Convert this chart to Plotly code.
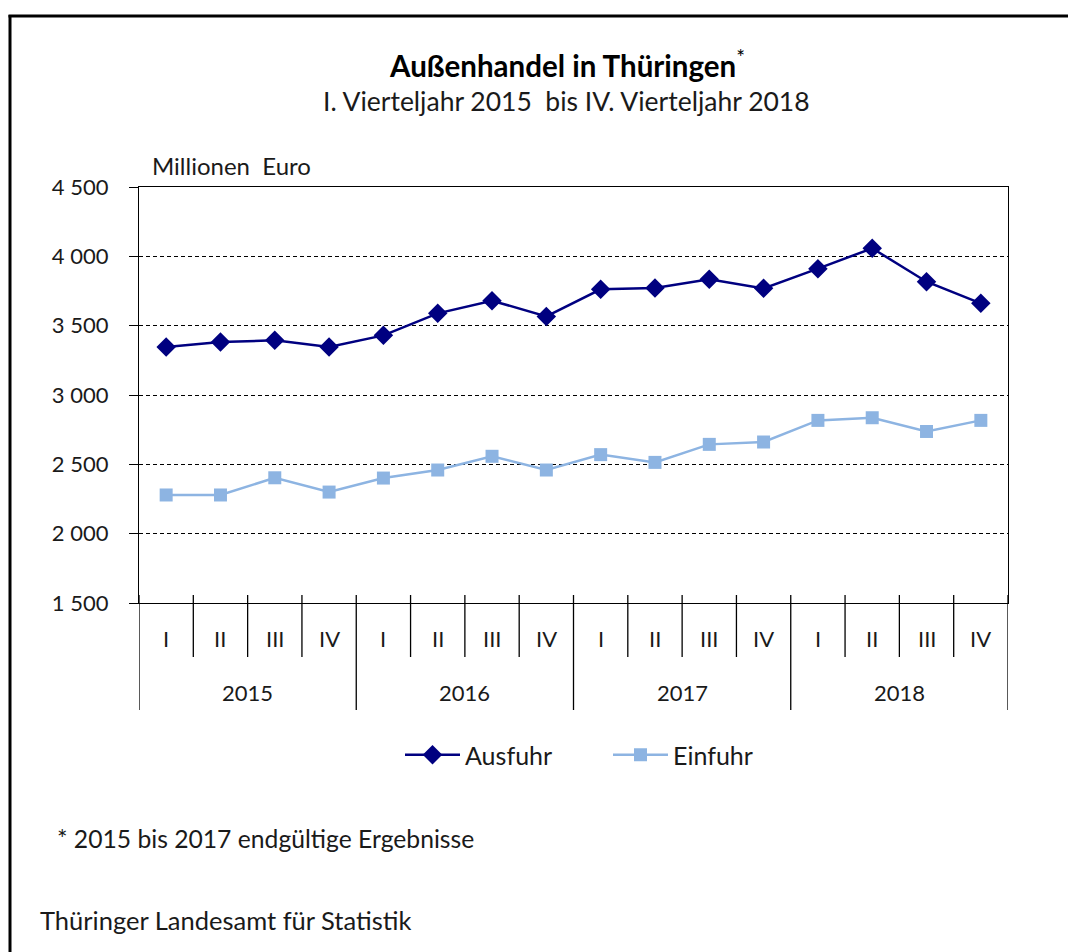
import plotly.graph_objects as go

# ---------------- data ----------------
years = ["2015", "2016", "2017", "2018"]
quarters = ["I", "II", "III", "IV"]
ausfuhr = [3346, 3382, 3394, 3346, 3430, 3589, 3680, 3567,
           3762, 3771, 3834, 3769, 3911, 4058, 3817, 3661]
einfuhr = [2279, 2279, 2403, 2300, 2401, 2459, 2558, 2459,
           2570, 2514, 2644, 2661, 2817, 2836, 2737, 2817]
y_ticks = [1500, 2000, 2500, 3000, 3500, 4000, 4500]

# categories (year, quarter)
cats = [(y, q) for y in years for q in quarters]
xidx = list(range(len(cats)))

# ---------------- layout helpers (screen pixel coordinates) ----------------
OFF = 8                      # page body margin
W, H = 1076 - OFF, 952 - OFF  # figure size
L, R, T, B = 139, 1008, 187, 603   # plot area on screen


def px_x(px):
    return (px - L) / (R - L)


def px_y(py):
    return (B - py) / (B - T)


FONT = "Lato, 'Noto Sans', sans-serif"
TXT = "#1a1a1a"

fig = go.Figure()
fig.add_trace(go.Scatter(
    x=xidx, y=ausfuhr, mode="lines+markers", name="Ausfuhr",
    line=dict(color="#000080", width=2.5),
    marker=dict(symbol="diamond", size=15, color="#000080"),
))
fig.add_trace(go.Scatter(
    x=xidx, y=einfuhr, mode="lines+markers", name="Einfuhr",
    line=dict(color="#8DB4E2", width=2.5),
    marker=dict(symbol="square", size=13, color="#8DB4E2"),
))

shapes = []
n = len(cats)
for k in range(n + 1):
    is_year = (k % len(quarters) == 0)
    shapes.append(dict(
        type="line", xref="x", yref="paper",
        x0=k - 0.5, x1=k - 0.5,
        y0=px_y(595), y1=px_y(710 if is_year else 657),
        line=dict(color="black", width=1.3),
    ))
# outer frame (left + top)
shapes.append(dict(type="line", xref="paper", yref="paper",
                   x0=px_x(10), x1=px_x(10), y0=px_y(15), y1=px_y(970),
                   line=dict(color="black", width=3)))
shapes.append(dict(type="line", xref="paper", yref="paper",
                   x0=px_x(8.5), x1=px_x(1090), y0=px_y(16), y1=px_y(16),
                   line=dict(color="black", width=3)))


def ann(x, y, text, size, xref="paper", xanchor="center", color=TXT):
    return dict(x=x, xref=xref, y=y, yref="paper", text=text, showarrow=False,
                xanchor=xanchor, yanchor="middle",
                font=dict(size=size, color=color, family=FONT))


annotations = []
for i, (yr, q) in enumerate(cats):
    annotations.append(ann(i, px_y(638), q, 22, xref="x"))
for j, yr in enumerate(years):
    pos = [i for i, c in enumerate(cats) if c[0] == yr]
    annotations.append(ann(sum(pos) / len(pos), px_y(692), yr, 22, xref="x"))
annotations.append(ann(px_x(567), px_y(64), "<b>Außenhandel in Thüringen</b><sup>*</sup>", 29.5,
                       color="black"))
annotations.append(ann(px_x(566), px_y(101), "I. Vierteljahr 2015  bis IV. Vierteljahr 2018", 26.5))
annotations.append(ann(px_x(150), px_y(165), "Millionen  Euro", 24, xanchor="left"))
annotations.append(ann(px_x(55), px_y(838), "* 2015 bis 2017 endgültige Ergebnisse", 24.7,
                       xanchor="left"))
annotations.append(ann(px_x(38), px_y(920), "Thüringer Landesamt für Statistik", 25.5,
                       xanchor="left"))

fig.update_layout(
    width=W, height=H,
    margin=dict(l=L - OFF, r=W - (R - OFF), t=T - OFF, b=H - (B - OFF), autoexpand=False),
    paper_bgcolor="white", plot_bgcolor="white",
    separators=", ",
    font=dict(family=FONT, color=TXT, size=22),
    showlegend=True,
    legend=dict(orientation="h", x=px_x(400), xanchor="left",
                y=px_y(755), yanchor="middle",
                font=dict(size=25, color=TXT, family=FONT),
                itemwidth=55, entrywidth=138, bgcolor="rgba(0,0,0,0)"),
    shapes=shapes,
    annotations=annotations,
)
fig.update_xaxes(range=[-0.5, n - 0.5], showticklabels=False, showgrid=False,
                 zeroline=False, showline=True, linecolor="black", linewidth=1.3,
                 mirror=True, ticks="")
fig.update_yaxes(range=[y_ticks[0], y_ticks[-1]], tickvals=y_ticks, tickformat=",d",
                 showgrid=True, gridcolor="black", gridwidth=1, griddash="4px,3px",
                 zeroline=False, showline=True, linecolor="black", linewidth=1.3,
                 mirror=True, ticks="outside", ticklen=9, tickcolor="black",
                 tickwidth=1.3, ticklabelstandoff=16,
                 tickfont=dict(size=22, color=TXT, family=FONT))

fig.write_html("out.html")
